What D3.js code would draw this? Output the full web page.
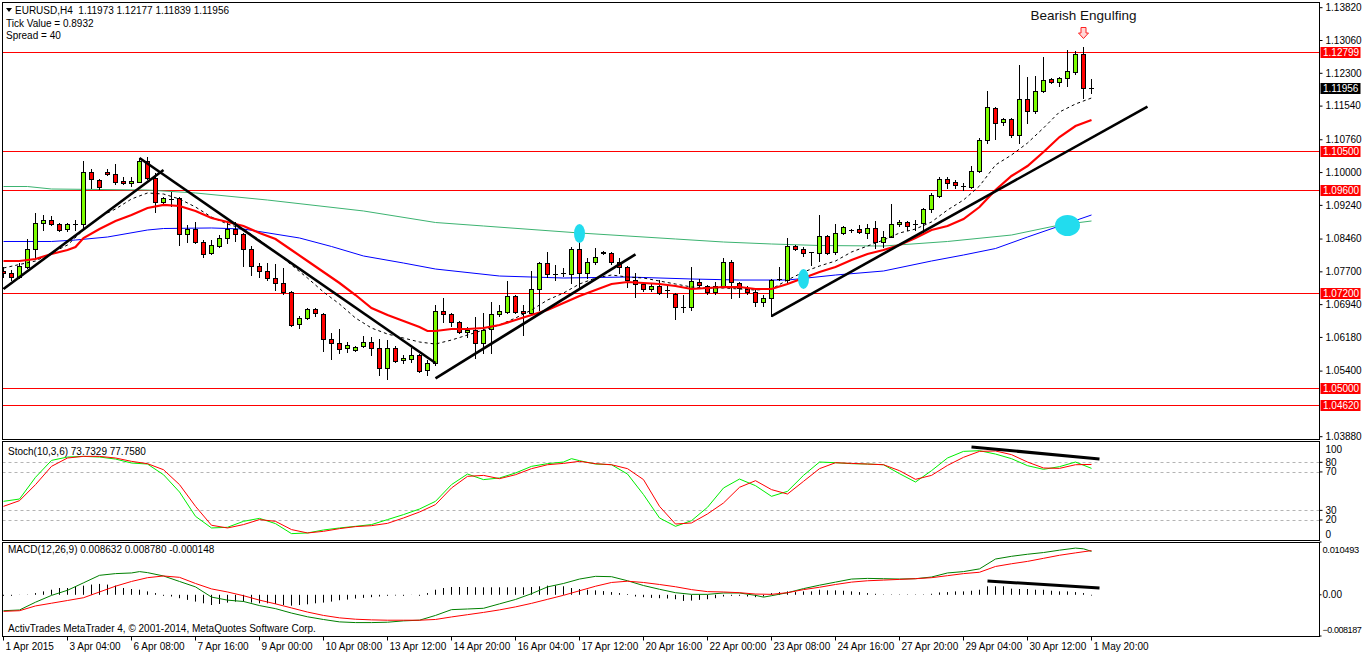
<!DOCTYPE html>
<html><head><meta charset="utf-8">
<script src="https://cdn.jsdelivr.net/npm/d3@7"></script>
<style>
html,body{margin:0;padding:0;background:#fff;overflow:hidden;}
svg{display:block;}
text{font-family:"Liberation Sans",Arial,sans-serif;font-size:10px;fill:#000;}
</style></head><body>
<svg id="c" width="1362" height="654"></svg>
<script>
// ---------------- DATA ----------------
const headerText = "EURUSD,H4  1.11973 1.12177 1.11839 1.11956";
const infoLines = ["Tick Value = 0.8932", "Spread = 40"];
const stochTitle = "Stoch(10,3,6) 73.7329 77.7580";
const macdTitle = "MACD(12,26,9) 0.008632 0.008780 -0.000148";
const footerText = "ActivTrades MetaTrader 4, \u00A9 2001-2014, MetaQuotes Software Corp.";
const patternText = "Bearish Engulfing";
const patternBar = 135;

const xLabels = ["1 Apr 2015","3 Apr 04:00","6 Apr 08:00","7 Apr 16:00","9 Apr 00:00","10 Apr 08:00","13 Apr 12:00","14 Apr 20:00","16 Apr 04:00","17 Apr 12:00","20 Apr 16:00","22 Apr 00:00","23 Apr 08:00","24 Apr 16:00","27 Apr 20:00","29 Apr 04:00","30 Apr 12:00","1 May 20:00"];
const xLabelStep = 8;

const priceTicks = [1.13820,1.13060,1.12300,1.11540,1.10760,1.10000,1.09240,1.08460,1.07700,1.06940,1.06180,1.05400,1.03880];
const levelPrices = [1.12799,1.10500,1.09600,1.07200,1.05000,1.04620];
const lastPrice = 1.11956;
const stochTicks = [100,80,70,30,20,0];
const stochLevels = [80,70,30,20];
const macdTicks = [0.010493,0,-0.008187];

const opens = [1.07719,1.07665,1.07572,1.07820,1.08221,1.08824,1.08901,1.08801,1.08685,1.08801,
1.08801,1.10006,1.09828,1.10013,1.09967,1.09805,1.09751,1.09789,1.10276,1.09867,
1.09326,1.09380,1.09403,1.08569,1.08692,1.08383,1.08129,1.08298,1.08476,1.08685,
1.08569,1.08221,1.07835,1.07719,1.07557,1.07433,1.07240,1.06483,1.06622,1.06831,
1.06723,1.06136,1.06043,1.05927,1.05888,1.05973,1.06081,1.05927,1.05463,1.05927,
1.05657,1.05672,1.05765,1.05425,1.05579,1.06784,1.06714,1.06544,1.06297,1.06351,
1.06042,1.06367,1.06714,1.06776,1.07147,1.06792,1.06737,1.07294,1.07896,1.07649,
1.07657,1.07649,1.08221,1.07680,1.07919,1.08167,1.08128,1.07935,1.07804,1.07510,
1.07417,1.07294,1.07371,1.07294,1.07178,1.06892,1.06877,1.07471,1.07379,1.07232,
1.07371,1.07927,1.07448,1.07317,1.07224,1.06992,1.07085,1.07518,1.07502,1.08290,
1.08221,1.08143,1.08143,1.08530,1.08151,1.08591,1.08653,1.08684,1.08607,1.08723,
1.08383,1.08514,1.08800,1.08862,1.08823,1.08823,1.09148,1.09464,1.09843,1.09789,
1.09704,1.09673,1.10044,1.10754,1.11488,1.11164,1.11241,1.10870,1.11697,1.11427,
1.11898,1.12168,1.12099,1.12184,1.12338,1.12740,1.11973];
const highs = [1.07804,1.07742,1.07912,1.08453,1.09056,1.09017,1.08994,1.08824,1.08824,1.08901,
1.10268,1.10075,1.09851,1.10075,1.10199,1.09890,1.09890,1.10330,1.10353,1.09983,
1.09442,1.09542,1.09426,1.08785,1.08862,1.08438,1.08438,1.08553,1.08824,1.08862,
1.08607,1.08298,1.07897,1.07897,1.07881,1.07781,1.07263,1.06676,1.06854,1.06854,
1.06738,1.06290,1.06367,1.06081,1.05981,1.06213,1.06197,1.06143,1.06120,1.05981,
1.05772,1.05927,1.05788,1.05657,1.06931,1.07086,1.06737,1.06560,1.06413,1.06660,
1.06737,1.07008,1.06931,1.07487,1.07162,1.06931,1.07726,1.07935,1.08167,1.07858,
1.07780,1.08282,1.08514,1.08012,1.08244,1.08190,1.08167,1.08012,1.07834,1.07664,
1.07471,1.07433,1.07510,1.07371,1.07201,1.07162,1.07819,1.07525,1.07394,1.07471,
1.08012,1.07973,1.07471,1.07371,1.07294,1.07162,1.07533,1.07819,1.08476,1.08321,
1.08282,1.08167,1.09016,1.08553,1.08808,1.08761,1.08684,1.08777,1.08808,1.08877,
1.08646,1.09271,1.08900,1.08885,1.08900,1.09171,1.09518,1.09905,1.09905,1.09827,
1.09750,1.10160,1.10809,1.11898,1.11512,1.11257,1.11257,1.12493,1.12222,1.12238,
1.12686,1.12184,1.12207,1.12840,1.12825,1.12902,1.12177];
const lows = [1.07588,1.07511,1.07549,1.07781,1.08013,1.08669,1.08777,1.08654,1.08654,1.08669,
1.08685,1.09650,1.09627,1.09944,1.09728,1.09743,1.09689,1.09782,1.09843,1.09094,
1.09287,1.09226,1.08322,1.08399,1.08360,1.08036,1.08105,1.08283,1.08360,1.08414,
1.07835,1.07626,1.07588,1.07511,1.07279,1.07178,1.06452,1.06390,1.06607,1.06676,
1.05873,1.05672,1.05826,1.05850,1.05873,1.05950,1.05772,1.05309,1.05209,1.05618,
1.05595,1.05618,1.05386,1.05309,1.05533,1.06545,1.06444,1.06274,1.06197,1.05695,
1.05810,1.05810,1.06676,1.06737,1.06737,1.06235,1.06699,1.06815,1.07572,1.07510,
1.07603,1.07433,1.07340,1.07549,1.07881,1.08105,1.07881,1.07664,1.07340,1.07124,
1.07263,1.07263,1.07186,1.07124,1.06598,1.06776,1.06815,1.07340,1.07186,1.07186,
1.07340,1.07085,1.07108,1.07186,1.06907,1.06907,1.06676,1.07510,1.07471,1.08205,
1.08066,1.07858,1.07958,1.08113,1.08113,1.08576,1.08615,1.08591,1.08476,1.08244,
1.08282,1.08499,1.08761,1.08669,1.08669,1.08630,1.09078,1.09441,1.09634,1.09634,
1.09596,1.09634,1.10021,1.10693,1.10770,1.11102,1.10832,1.10677,1.11156,1.11372,
1.11875,1.12068,1.12006,1.12006,1.12284,1.11720,1.11839];
const closes = [1.07665,1.07572,1.07835,1.08229,1.08824,1.08901,1.08801,1.08669,1.08801,1.08808,
1.10006,1.09843,1.09658,1.09959,1.09789,1.09751,1.09805,1.10268,1.09867,1.09326,
1.09403,1.09380,1.08569,1.08692,1.08383,1.08105,1.08314,1.08476,1.08685,1.08569,
1.08221,1.07843,1.07719,1.07549,1.07433,1.07240,1.06468,1.06622,1.06831,1.06738,
1.06136,1.06043,1.05904,1.06012,1.05950,1.06081,1.05927,1.05463,1.05927,1.05641,
1.05695,1.05765,1.05402,1.05579,1.06784,1.06715,1.06544,1.06313,1.06351,1.06042,
1.06351,1.06714,1.06792,1.07147,1.06776,1.06737,1.07294,1.07896,1.07649,1.07645,
1.07672,1.08221,1.07665,1.07919,1.08035,1.08128,1.07935,1.07804,1.07510,1.07417,
1.07294,1.07371,1.07201,1.07278,1.06877,1.06884,1.07487,1.07386,1.07232,1.07371,
1.07927,1.07456,1.07317,1.07224,1.06992,1.07085,1.07502,1.07525,1.08290,1.08221,
1.08128,1.08151,1.08530,1.08143,1.08591,1.08731,1.08661,1.08615,1.08723,1.08383,
1.08514,1.08800,1.08862,1.08769,1.08816,1.09148,1.09480,1.09843,1.09750,1.09704,
1.09696,1.10044,1.10754,1.11512,1.11141,1.11241,1.10870,1.11697,1.11427,1.11898,
1.12145,1.12099,1.12184,1.12354,1.12740,1.11967,1.11956];

// moving averages: [bar index, price]
const maRed = [[0,1.07951],[2,1.07951],[4,1.07997],[6,1.08113],[8,1.08206],[9,1.08275],[10,1.08484],[12,1.08692],[14,1.08878],[16,1.09017],[18,1.09179],[20,1.09249],[22,1.09225],[24,1.09110],[26,1.08947],[28,1.08855],[30,1.08762],[32,1.08600],[34,1.08461],[36,1.08206],[38,1.07951],[40,1.07696],[42,1.07441],[44,1.07163],[46,1.06862],[48,1.06699],[50,1.06560],[52,1.06421],[53,1.06329],[54,1.06329],[56,1.06375],[58,1.06375],[60,1.06398],[62,1.06468],[64,1.06583],[66,1.06699],[68,1.06815],[70,1.06977],[72,1.07140],[74,1.07279],[76,1.07418],[78,1.07464],[80,1.07441],[82,1.07418],[84,1.07371],[86,1.07302],[88,1.07325],[90,1.07348],[92,1.07348],[94,1.07302],[96,1.07302],[98,1.07418],[100,1.07557],[102,1.07696],[104,1.07812],[106,1.07974],[108,1.08113],[110,1.08206],[112,1.08322],[114,1.08484],[116,1.08669],[118,1.08762],[120,1.08924],[122,1.09202],[124,1.09596],[126,1.09921],[128,1.10152],[130,1.10477],[132,1.10824],[134,1.11079],[136,1.11218]];
const maDash = [[0,1.07789],[4,1.07951],[8,1.08322],[10,1.08669],[12,1.08970],[14,1.09156],[16,1.09388],[18,1.09527],[20,1.09503],[22,1.09388],[24,1.09202],[26,1.08970],[28,1.08808],[30,1.08692],[32,1.08437],[34,1.08159],[36,1.07858],[38,1.07557],[40,1.07232],[42,1.06954],[44,1.06630],[46,1.06398],[48,1.06259],[50,1.06166],[52,1.06074],[54,1.06027],[56,1.06120],[58,1.06236],[60,1.06352],[62,1.06468],[64,1.06630],[66,1.06815],[68,1.07047],[70,1.07209],[72,1.07418],[74,1.07557],[76,1.07626],[78,1.07580],[80,1.07557],[82,1.07487],[84,1.07418],[86,1.07348],[88,1.07325],[90,1.07325],[92,1.07302],[94,1.07279],[96,1.07302],[98,1.07510],[100,1.07696],[102,1.07835],[104,1.07951],[106,1.08159],[108,1.08298],[110,1.08437],[112,1.08600],[114,1.08692],[116,1.08855],[118,1.09133],[120,1.09364],[122,1.09689],[124,1.10176],[126,1.10407],[128,1.10685],[130,1.11033],[132,1.11404],[134,1.11589],[136,1.11728]];
const maBlue = [[0,1.08403],[6,1.08403],[9,1.08437],[13,1.08507],[18,1.08669],[20,1.08704],[26,1.08716],[30,1.08692],[37,1.08484],[41,1.08287],[45,1.08067],[50,1.07904],[54,1.07765],[62,1.07603],[70,1.07557],[78,1.07580],[86,1.07534],[92,1.07510],[98,1.07510],[104,1.07626],[110,1.07719],[116,1.07951],[120,1.08090],[124,1.08240],[128,1.08507],[132,1.08762],[136,1.09017]];
const maGreen = [[0,1.09677],[3,1.09677],[6,1.09619],[12,1.09608],[18,1.09596],[24,1.09527],[33,1.09364],[45,1.09110],[54,1.08843],[60,1.08762],[72,1.08600],[84,1.08461],[90,1.08391],[96,1.08345],[102,1.08310],[110,1.08298],[118,1.08403],[126,1.08553],[132,1.08785],[136,1.08878]];

const trendLines = [[[0,1.07302],[20,1.10060]],[[17,1.10338],[54,1.05587]],[[54,1.05232],[79,1.08106]],[[96,1.06676],[143,1.11527]]];
const markers = [{bar:72,price:1.08588,rx:5.5,ry:9.5},{bar:100,price:1.07534,rx:5.5,ry:10},{bar:133,price:1.08773,rx:12.5,ry:10.5}];

const stochK = [[0,39.4],[2,41.8],[4,64.4],[6,82.0],[8,85.5],[10,86.2],[12,85.5],[14,83.4],[16,79.3],[18,78.2],[20,67.1],[22,49.1],[24,23.8],[26,11.7],[28,12.4],[30,18.6],[32,21.7],[34,16.2],[36,5.8],[38,6.5],[40,9.6],[42,11.7],[44,13.4],[46,15.2],[48,20.4],[50,25.6],[52,31.4],[54,39.4],[56,56.8],[58,67.8],[60,62.0],[62,63.7],[64,68.9],[66,75.8],[68,78.6],[70,80.3],[71,83.8],[72,81.7],[74,78.2],[76,77.5],[78,67.8],[80,46.4],[82,22.1],[84,13.4],[86,19.3],[88,33.2],[90,53.3],[92,62.6],[94,55.7],[96,44.6],[98,49.8],[100,66.4],[102,80.3],[104,79.6],[106,78.6],[108,78.2],[110,77.5],[112,68.2],[114,59.5],[116,71.3],[118,84.5],[120,91.4],[122,92.1],[124,88.6],[126,83.8],[128,76.5],[130,72.7],[132,75.5],[134,80.3],[136,73.7]];
const stochD = [[0,34.2],[2,40.1],[4,56.8],[6,75.8],[8,84.5],[10,86.2],[12,86.2],[14,84.5],[16,81.0],[18,78.6],[20,72.3],[22,56.8],[24,34.2],[26,14.5],[28,11.7],[30,15.2],[32,20.4],[34,18.6],[36,10.0],[38,6.5],[40,8.2],[42,11.0],[44,13.1],[46,14.1],[48,16.5],[50,22.1],[52,28.3],[54,36.0],[56,53.3],[58,65.4],[60,66.4],[62,63.0],[64,67.1],[66,73.4],[68,77.5],[70,78.9],[72,81.0],[74,78.6],[76,77.5],[78,73.4],[80,62.0],[82,34.2],[84,15.8],[86,16.9],[88,26.3],[90,37.7],[92,54.0],[94,60.9],[96,51.6],[98,47.0],[100,60.2],[102,73.4],[104,79.6],[106,78.9],[108,78.2],[110,77.5],[112,71.3],[114,62.3],[116,66.4],[118,76.8],[120,85.2],[122,91.4],[124,91.8],[126,88.0],[128,80.3],[130,74.1],[132,73.7],[134,77.5],[136,77.8]];
const stochTrend = [[121,96],[137,83.5]];

const macdMain = [[0,-0.00316],[2,-0.00302],[4,-0.00147],[6,-0.00012],[8,0.00090],[10,0.00238],[12,0.00387],[14,0.00421],[16,0.00434],[17,0.00461],[18,0.00441],[20,0.00374],[22,0.00265],[24,0.00157],[26,-0.00045],[28,-0.00106],[30,-0.00133],[32,-0.00214],[34,-0.00275],[36,-0.00363],[38,-0.00437],[40,-0.00491],[42,-0.00538],[44,-0.00552],[46,-0.00552],[48,-0.00545],[50,-0.00518],[52,-0.00505],[54,-0.00410],[56,-0.00295],[58,-0.00282],[60,-0.00268],[62,-0.00180],[64,-0.00093],[66,0.00022],[68,0.00157],[70,0.00225],[72,0.00313],[74,0.00367],[76,0.00360],[78,0.00279],[80,0.00184],[82,0.00110],[84,0.00042],[86,0.00009],[88,0.00009],[90,0.00036],[92,0.00036],[94,-0.00011],[95,-0.00046],[96,-0.00018],[98,0.00042],[100,0.00123],[102,0.00191],[104,0.00252],[106,0.00313],[108,0.00326],[110,0.00320],[112,0.00313],[114,0.00320],[116,0.00353],[118,0.00434],[120,0.00461],[122,0.00515],[124,0.00711],[126,0.00765],[128,0.00806],[130,0.00840],[132,0.00887],[134,0.00928],[135,0.00914],[136,0.008632]];
const macdSignal = [[0,-0.00329],[2,-0.00316],[4,-0.00221],[6,-0.00167],[8,-0.00113],[10,-0.00058],[12,0.00056],[14,0.00171],[16,0.00265],[18,0.00340],[20,0.00374],[22,0.00347],[24,0.00225],[26,0.00117],[28,0.00056],[30,-0.00018],[32,-0.00106],[34,-0.00180],[36,-0.00261],[38,-0.00343],[40,-0.00410],[42,-0.00458],[44,-0.00485],[46,-0.00498],[48,-0.00505],[50,-0.00505],[52,-0.00505],[54,-0.00490],[56,-0.00440],[58,-0.00395],[60,-0.00350],[62,-0.00300],[64,-0.00240],[66,-0.00170],[68,-0.00090],[70,-0.00010],[72,0.00080],[74,0.00170],[76,0.00245],[78,0.00270],[80,0.00245],[82,0.00205],[84,0.00160],[86,0.00103],[88,0.00063],[90,0.00056],[92,0.00042],[94,0.00015],[96,0.00009],[98,0.00042],[100,0.00103],[102,0.00150],[104,0.00205],[106,0.00252],[108,0.00279],[110,0.00292],[112,0.00306],[114,0.00320],[116,0.00340],[118,0.00380],[120,0.00421],[122,0.00448],[124,0.00563],[126,0.00617],[128,0.00664],[130,0.00725],[132,0.00786],[134,0.00833],[136,0.00878]];
const macdHist = [0,0,0.00003,0.00005,0.00034,0.00068,0.00101,0.00135,0.00135,0.00169,
0.00182,0.00203,0.00216,0.00203,0.00182,0.00135,0.00115,0.00101,0.00068,0.00034,
0,-0.00034,-0.00068,-0.00101,-0.00135,-0.00169,-0.00203,-0.00182,-0.00155,-0.00135,
-0.00135,-0.00155,-0.00169,-0.00169,-0.00182,-0.00203,-0.00216,-0.00203,-0.00189,-0.00169,
-0.00155,-0.00135,-0.00108,-0.00095,-0.00074,-0.00061,-0.00047,-0.00034,-0.00020,-0.00014,
0,-0.00003,0,0.00034,0.00101,0.00135,0.00155,0.00155,0.00155,0.00149,
0.00149,0.00149,0.00149,0.00149,0.00149,0.00149,0.00155,0.00169,0.00182,0.00182,
0.00169,0.00135,0.00115,0.00101,0.00088,0.00074,0.00054,0.00034,0.00014,-0.00034,
-0.00047,-0.00061,-0.00068,-0.00074,-0.00088,-0.00122,-0.00115,-0.00101,-0.00088,-0.00068,
-0.00034,-0.00020,-0.00020,-0.00034,-0.00047,-0.00034,0.00034,0.00054,0.00068,0.00054,
0.00068,0.00068,0.00101,0.00088,0.00088,0.00081,0.00068,0.00054,0.00034,0.00020,
0.00007,0.00007,0.00007,0.00007,0.00007,0.00007,0.00020,0.00047,0.00054,0.00068,
0.00068,0.00081,0.00101,0.00169,0.00169,0.00169,0.00122,0.00115,0.00115,0.00101,
0.00101,0.00081,0.00068,0.00068,0.00054,0.00034,-0.000148];
const macdTrend = [[123,0.00274],[137,0.00135]];

// ---------------- LAYOUT ----------------
const L = 2.5, R = 1319.5;
const mainTop = 2.5, mainBot = 439.5;
const stTop = 441.5, stBot = 540.5;
const mdTop = 542.5, mdBot = 636.5;

const svg = d3.select("#c");
const defs = svg.append("defs");
function clip(id, y0, y1){
  defs.append("clipPath").attr("id", id).append("rect")
    .attr("x", L + 0.5).attr("y", y0 + 0.5).attr("width", R - L - 1).attr("height", y1 - y0 - 1);
}
clip("cMain", mainTop, mainBot); clip("cSt", stTop, stBot); clip("cMd", mdTop, mdBot);

const x = d3.scaleLinear().domain([0, 136]).range([3.5, 1091.5]);
const yP = d3.scaleLinear().domain([1.0388, 1.1382]).range([436.7, 7.7]);
const yS = d3.scaleLinear().domain([0, 100]).range([539.2, 443.1]);
const yM = d3.scaleLinear().domain([-0.008187, 0.010493]).range([636, 542]);

const rnd = v => Math.round(v);

// ---------------- MAIN PANEL ----------------
const gMain = svg.append("g").attr("clip-path", "url(#cMain)");

gMain.selectAll(".lvl").data(levelPrices).join("line")
  .attr("x1", L).attr("x2", R)
  .attr("y1", d => rnd(yP(d)) + 0.5).attr("y2", d => rnd(yP(d)) + 0.5)
  .attr("stroke", "#ff0000").attr("stroke-width", 1);

const lineP = d3.line().x(d => x(d[0])).y(d => yP(d[1]));
gMain.append("path").datum(maGreen).attr("d", lineP).attr("fill", "none").attr("stroke", "#3cb371").attr("stroke-width", 1);
gMain.append("path").datum(maBlue).attr("d", lineP).attr("fill", "none").attr("stroke", "#0000ff").attr("stroke-width", 1);

const bars = d3.range(opens.length).map(i => ({i, o: opens[i], h: highs[i], l: lows[i], c: closes[i]}));
const gC = gMain.append("g");
gC.selectAll(".wick").data(bars).join("line")
  .attr("x1", d => x(d.i)).attr("x2", d => x(d.i))
  .attr("y1", d => rnd(yP(d.h))).attr("y2", d => rnd(yP(d.l)) + 1)
  .attr("stroke", "#000").attr("stroke-width", 1);
const isDoji = d => Math.abs(d.c - d.o) < 0.0002;
gC.selectAll(".body").data(bars.filter(d => !isDoji(d))).join("rect")
  .attr("x", d => x(d.i) - 2).attr("width", 4)
  .attr("y", d => rnd(yP(Math.max(d.o, d.c))) + 0.5)
  .attr("height", d => Math.max(1, rnd(yP(Math.min(d.o, d.c))) - rnd(yP(Math.max(d.o, d.c)))))
  .attr("fill", d => d.c > d.o ? "#7cfc00" : "#ff0000")
  .attr("stroke", "#000").attr("stroke-width", 1);
gC.selectAll(".doji").data(bars.filter(isDoji)).join("line")
  .attr("x1", d => x(d.i) - 2.5).attr("x2", d => x(d.i) + 2.5)
  .attr("y1", d => rnd(yP(d.c)) + 0.5).attr("y2", d => rnd(yP(d.c)) + 0.5)
  .attr("stroke", "#000").attr("stroke-width", 1);

gMain.append("path").datum(maDash).attr("d", lineP).attr("fill", "none").attr("stroke", "#000").attr("stroke-width", 1).attr("stroke-dasharray", "3,3");
gMain.append("path").datum(maRed).attr("d", lineP).attr("fill", "none").attr("stroke", "#ff0000").attr("stroke-width", 2.2);

gMain.selectAll(".tl").data(trendLines).join("path")
  .attr("d", lineP).attr("fill", "none").attr("stroke", "#000").attr("stroke-width", 2.6);

gMain.selectAll(".mk").data(markers).join("ellipse")
  .attr("cx", d => x(d.bar)).attr("cy", d => yP(d.price))
  .attr("rx", d => d.rx).attr("ry", d => d.ry)
  .attr("fill", "#22dcee");

const px = x(patternBar);
svg.append("text").attr("x", px).attr("y", 20).attr("text-anchor", "middle")
  .style("font-size", "13.5px").style("fill", "#111").text(patternText);
svg.append("path")
  .attr("d", `M${px-2.5},27.5 L${px+2.5},27.5 L${px+2.5},33 L${px+5},33 L${px},38.5 L${px-5},33 L${px-2.5},33 Z`)
  .attr("fill", "#ffd8d8").attr("stroke", "#ff2020").attr("stroke-width", 1);

svg.append("path").attr("d", "M6,8 L12,8 L9,12 Z").attr("fill", "#000");
svg.append("text").attr("x", 15).attr("y", 14).attr("xml:space", "preserve").style("white-space", "pre").text(headerText);
svg.selectAll(".info").data(infoLines).join("text")
  .attr("x", 6).attr("y", (d, k) => 27 + k * 12).text(d => d);

// ---------------- STOCH PANEL ----------------
const gSt = svg.append("g").attr("clip-path", "url(#cSt)");
gSt.selectAll(".sl").data(stochLevels).join("line")
  .attr("x1", L).attr("x2", R)
  .attr("y1", d => rnd(yS(d)) + 0.5).attr("y2", d => rnd(yS(d)) + 0.5)
  .attr("stroke", "#b4b4b4").attr("stroke-width", 1).attr("stroke-dasharray", "3,3");
const lineS = d3.line().x(d => x(d[0])).y(d => yS(d[1]));
gSt.append("path").datum(stochK).attr("d", lineS).attr("fill", "none").attr("stroke", "#00ee00").attr("stroke-width", 1);
gSt.append("path").datum(stochD).attr("d", lineS).attr("fill", "none").attr("stroke", "#ff0000").attr("stroke-width", 1);
gSt.append("path").datum(stochTrend).attr("d", lineS).attr("fill", "none").attr("stroke", "#000").attr("stroke-width", 3);
svg.append("text").attr("x", 8).attr("y", 454.5).text(stochTitle);

// ---------------- MACD PANEL ----------------
const gMd = svg.append("g").attr("clip-path", "url(#cMd)");
gMd.selectAll(".hb").data(macdHist.map((v, i) => [i, v])).join("line")
  .attr("x1", d => x(d[0])).attr("x2", d => x(d[0]))
  .attr("y1", yM(0)).attr("y2", d => d[1] === 0 ? yM(0) + 1 : yM(d[1]))
  .attr("stroke", "#000").attr("stroke-width", 1);
const lineM = d3.line().x(d => x(d[0])).y(d => yM(d[1]));
gMd.append("path").datum(macdMain).attr("d", lineM).attr("fill", "none").attr("stroke", "#008000").attr("stroke-width", 1);
gMd.append("path").datum(macdSignal).attr("d", lineM).attr("fill", "none").attr("stroke", "#ff0000").attr("stroke-width", 1);
gMd.append("path").datum(macdTrend).attr("d", lineM).attr("fill", "none").attr("stroke", "#000").attr("stroke-width", 3);
svg.append("text").attr("x", 8).attr("y", 552.5).text(macdTitle);
svg.append("text").attr("x", 8).attr("y", 631.5).text(footerText);

// ---------------- FRAMES ----------------
[[mainTop, mainBot], [stTop, stBot], [mdTop, mdBot]].forEach(([t, b]) => {
  svg.append("rect").attr("x", L).attr("y", t).attr("width", R - L).attr("height", b - t)
    .attr("fill", "none").attr("stroke", "#000").attr("stroke-width", 1);
});

// ---------------- AXES ----------------
function styleAxis(g){ g.select(".domain").remove(); g.selectAll("text").style("font-family", "'Liberation Sans',Arial,sans-serif").style("font-size", "10px").attr("fill", "#000"); g.selectAll("line").attr("stroke", "#000"); }

const axP = svg.append("g").attr("transform", `translate(${R},0)`)
  .call(d3.axisRight(yP).tickValues(priceTicks).tickSize(3).tickPadding(3).tickFormat(d3.format(".5f")).offset(0));
styleAxis(axP);

const lv = svg.append("g");
const boxes = levelPrices.map(p => ({p, bg: "#ff0000"})).concat([{p: lastPrice, bg: "#000000"}]);
lv.selectAll("rect").data(boxes).join("rect")
  .attr("x", R + 1).attr("width", 40).attr("y", d => rnd(yP(d.p)) - 5).attr("height", 11)
  .attr("fill", d => d.bg);
lv.selectAll("text").data(boxes).join("text")
  .attr("x", R + 3.5).attr("y", d => rnd(yP(d.p)) + 4).style("fill", "#fff")
  .text(d => d3.format(".5f")(d.p));

const axS = svg.append("g").attr("transform", `translate(${R},0)`)
  .call(d3.axisRight(yS).tickValues(stochTicks).tickSize(3).tickPadding(3).tickFormat(d => String(d)).offset(0));
styleAxis(axS);
axS.selectAll(".tick text").attr("dy", d => d === 100 ? "0.95em" : (d === 0 ? "-0.16em" : "0.32em"));
axS.selectAll(".tick line").attr("opacity", d => (d === 100 || d === 0) ? 0 : 1);

const fmtM = d => d === 0 ? "0.00" : d3.format(".6f")(d);
const axM = svg.append("g").attr("transform", `translate(${R},0)`)
  .call(d3.axisRight(yM).tickValues(macdTicks).tickSize(2).tickPadding(1).tickFormat(fmtM).offset(0));
styleAxis(axM);
axM.selectAll(".tick text")
  .style("font-size", d => d === 0 ? "10px" : (d < 0 ? "9px" : "9.3px"))
  .style("letter-spacing", d => d === 0 ? "0px" : (d < 0 ? "-0.45px" : "-0.3px"))
  .attr("dy", d => d > 0 ? "1.2em" : (d < 0 ? "-0.3em" : "0.32em"));

const xTickIdx = xLabels.map((_, k) => k * xLabelStep);
const axX = svg.append("g").attr("transform", `translate(0,${mdBot})`)
  .call(d3.axisBottom(x).tickValues(xTickIdx).tickSize(4).tickPadding(2).tickFormat((d, k) => xLabels[k]).offset(0));
styleAxis(axX);
axX.selectAll(".tick text").attr("text-anchor", "start").attr("x", 2);
</script>
</body></html>
